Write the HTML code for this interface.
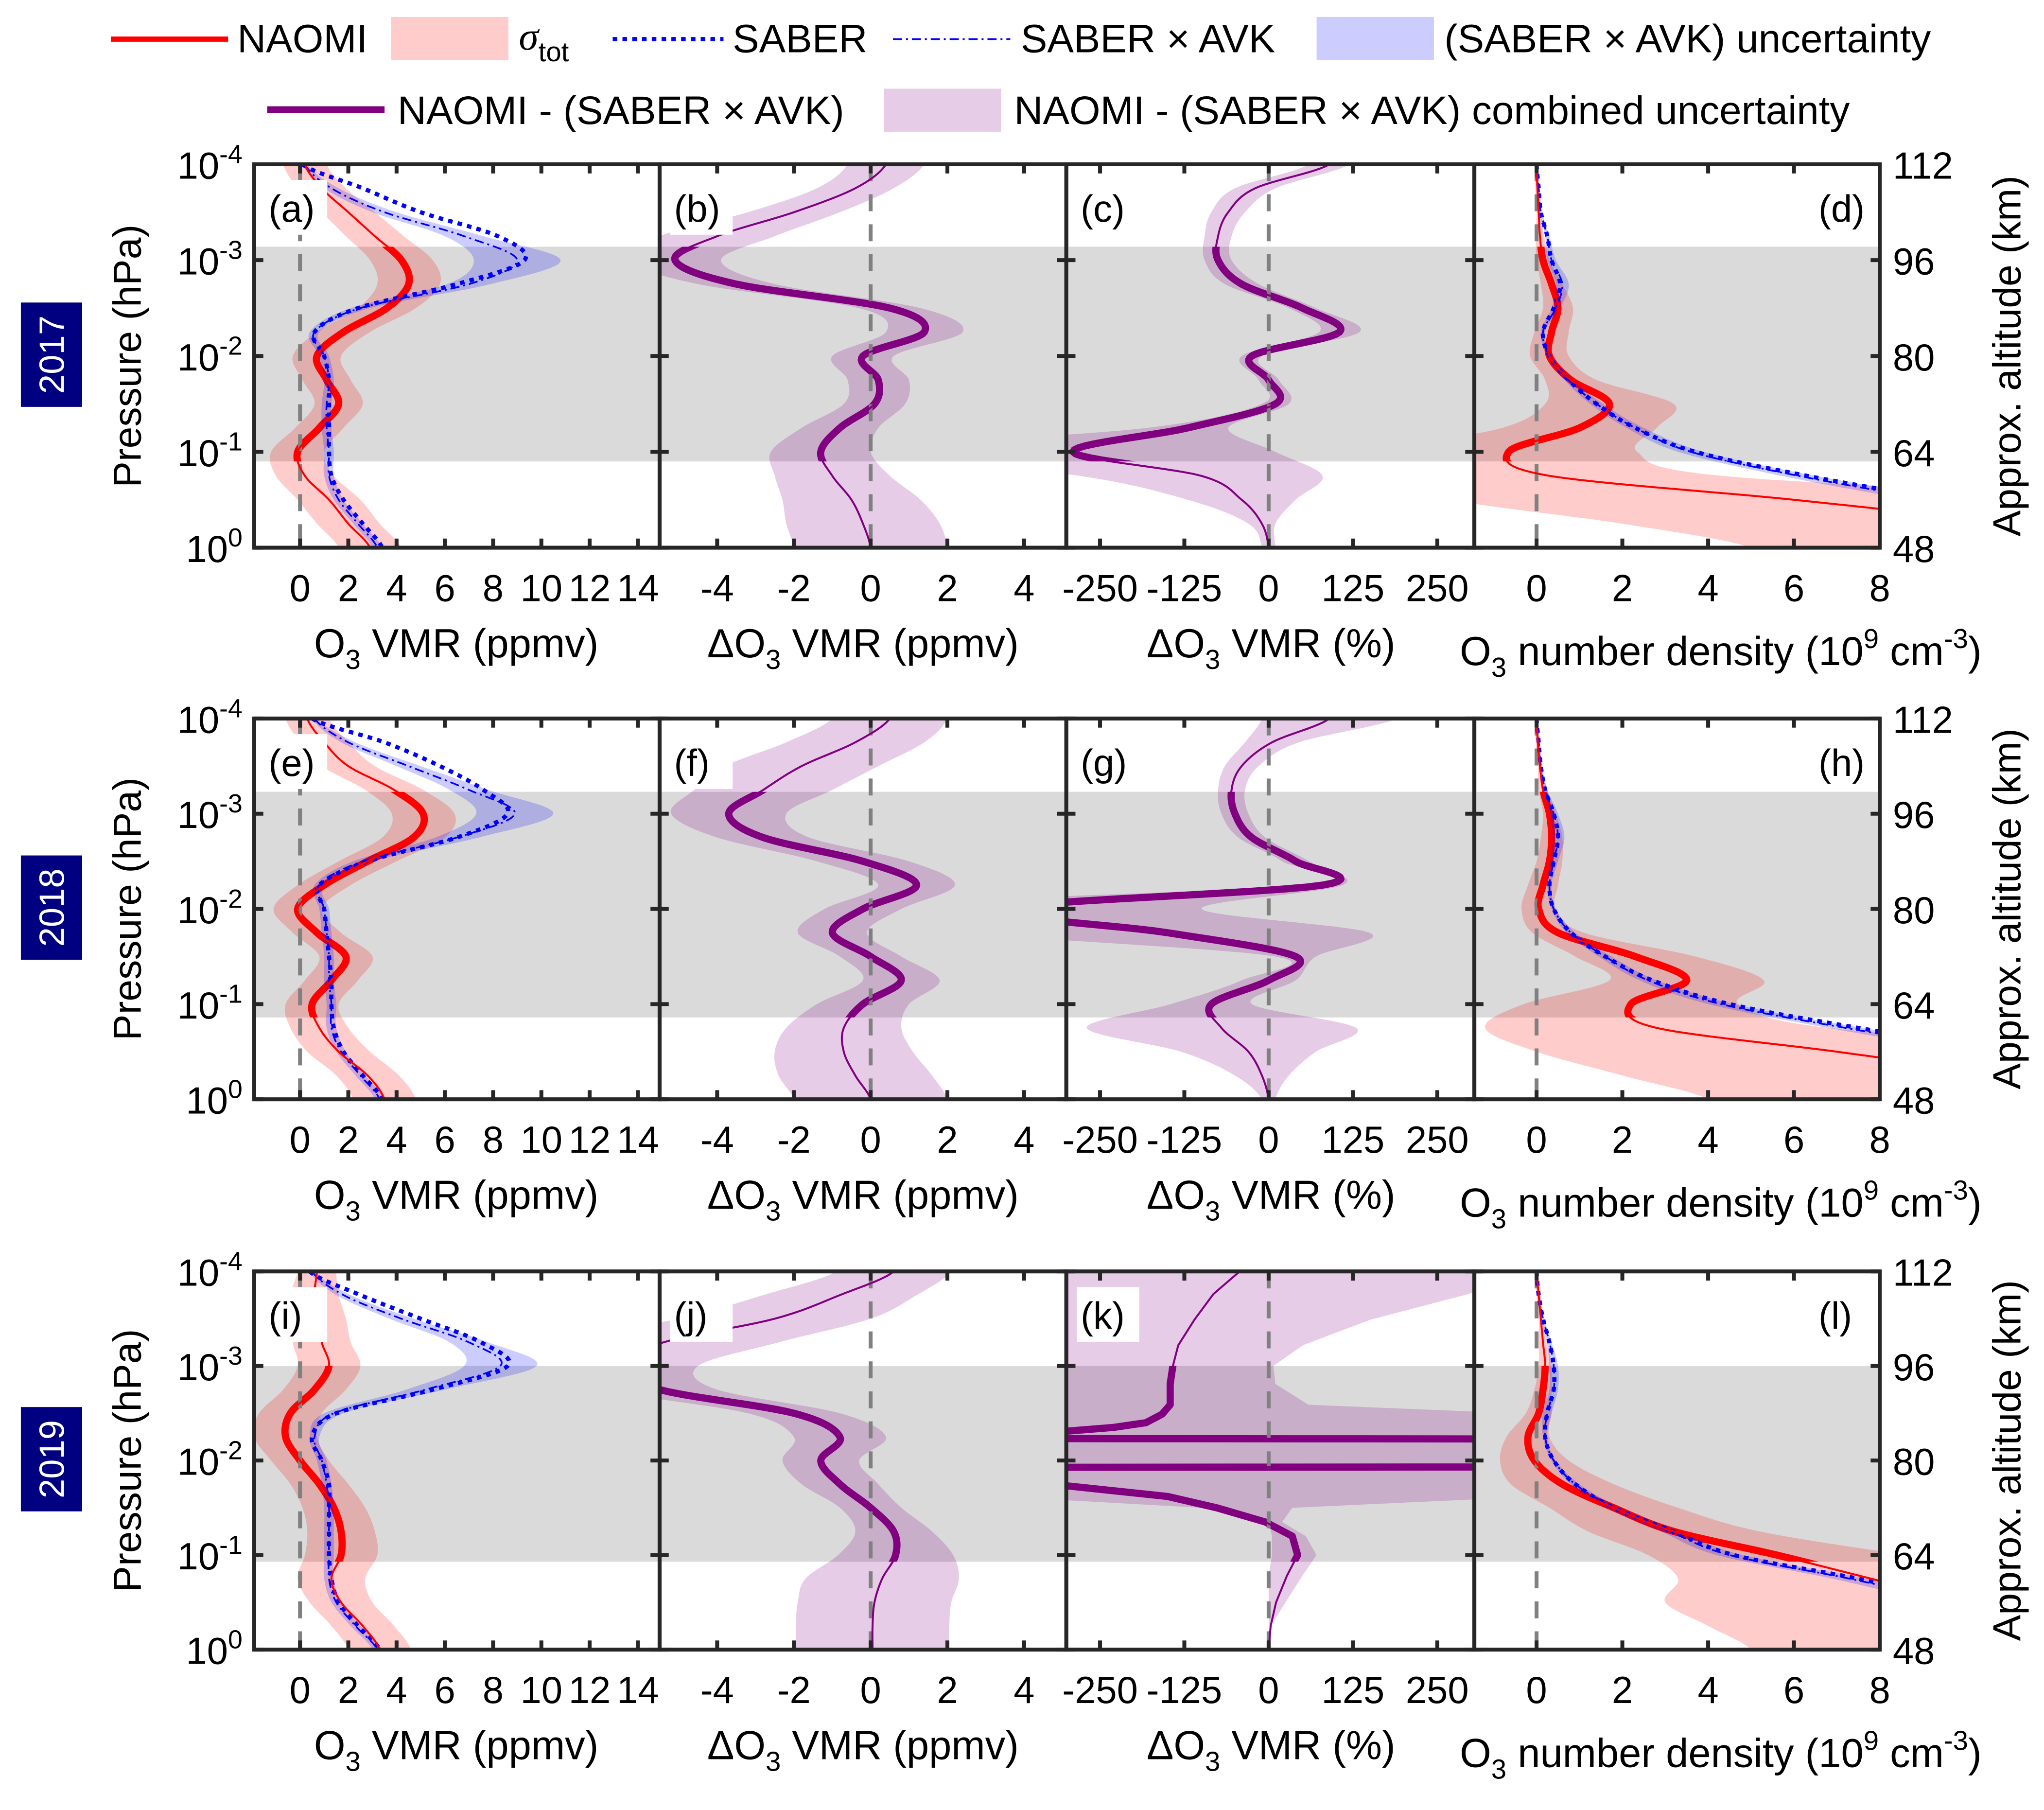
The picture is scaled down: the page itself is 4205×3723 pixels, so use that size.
<!DOCTYPE html>
<html><head><meta charset="utf-8"><style>
html,body{margin:0;padding:0;background:#fff;}
svg{display:block;font-family:"Liberation Sans",Arial,sans-serif;}
</style></head><body>
<svg id="fig" xmlns="http://www.w3.org/2000/svg" width="4205" height="3723" viewBox="0 0 1568 1388" preserveAspectRatio="none"></svg>
<script>
// ---------- data ----------
const LEV=[-4,-3.75,-3.5,-3.25,-3,-2.75,-2.5,-2.25,-2,-1.75,-1.5,-1.25,-1,-0.75,-0.5,-0.25,0];
const YEARS=['2017','2018','2019'];
const XTICKS_A=[0,2,4,6,8,10,12,14];
const XTICKS_B=[-4,-2,0,2,4];
const XTICKS_C=[-250,-125,0,125,250];
const XTICKS_D=[0,2,4,6,8];
const YTICK_EXP=[-4,-3,-2,-1,0];
const ALT_TICKS=[112,96,80,64,48];
// panel a (2017)
const aNaomi=[0.2,0.9,2.0,3.1,4.2,4.5,3.6,1.8,0.7,1.1,1.6,0.8,-0.1,0.2,1.2,2.0,2.9];
const aSig=[0.9,1.0,1.1,1.2,1.3,1.3,1.2,1.1,1.0,1.0,1.0,1.0,1.1,1.2,1.3,1.3,1.3];
const aSaber=[0.1,2.6,5.0,8.2,9.3,6.5,2.4,0.6,1.0,1.2,1.2,1.2,1.2,1.3,1.8,2.6,3.4];
const aAvk=[0.2,1.3,3.5,6.8,9.0,7.0,2.5,0.6,1.0,1.2,1.1,1.1,1.2,1.2,1.6,2.4,3.2];
const aAvkU=[0.1,0.3,0.5,0.8,1.8,0.9,0.4,0.2,0.2,0.2,0.2,0.2,0.2,0.2,0.2,0.2,0.2];
// panel b, c, d
const bDiff=[0.4,-0.4,-2,-4,-5.1,-3.5,0.5,1.4,-0.2,0.2,0.1,-0.8,-1.3,-1,-0.5,-0.2,0];
const bUnc=[1.0,1.0,1.2,1.5,1.2,1.0,0.8,1.0,0.8,0.8,0.8,1.0,1.3,1.5,1.8,2.0,2.0];
const cDiff=[90,-20,-60,-75,-75,-40,50,105,-25,0,10,-120,-290,-100,-40,-10,0];
const cUnc=[30,30,25,20,20,25,20,30,15,15,20,60,300,180,80,20,10];
const dNaomi=[0,0.02,0.05,0.08,0.15,0.35,0.5,0.35,0.3,0.8,1.7,1.0,-0.65,0.3,6,11,15];
const dSig=[0.05,0.05,0.05,0.1,0.15,0.25,0.35,0.4,0.45,0.6,1.5,1.8,3.0,4.0,8,9,10];
const dSaber=[0,0.05,0.1,0.25,0.35,0.55,0.4,0.15,0.3,0.75,1.4,2.3,3.7,6.3,9.5,13,17];
const dAvk=[0,0.05,0.1,0.25,0.35,0.6,0.45,0.15,0.3,0.75,1.4,2.3,3.6,6.1,9.2,12.5,16.5];
const dAvkU=[0,0.02,0.03,0.05,0.1,0.15,0.1,0.05,0.05,0.1,0.15,0.2,0.3,0.4,0.5,0.6,0.7];
// panel e (2018)
const eNaomi=[0.3,1.0,2.0,3.9,5.1,4.7,2.8,1.0,-0.1,0.7,1.9,1.3,0.5,0.8,1.6,2.8,3.5];
const eSig=[0.9,1.0,1.1,1.2,1.3,1.3,1.2,1.1,1.0,1.0,1.1,1.1,1.1,1.2,1.3,1.3,1.3];
const eSaber=[0.5,3.5,5.8,7.6,8.6,6.5,2.8,0.8,1.0,1.1,1.2,1.3,1.3,1.4,1.8,2.6,3.4];
const eAvk=[0.6,2.0,4.5,7.0,8.9,6.5,2.6,0.8,1.0,1.1,1.2,1.2,1.3,1.3,1.7,2.5,3.3];
const eAvkU=[0.1,0.3,0.5,0.8,1.6,0.9,0.4,0.2,0.2,0.2,0.2,0.2,0.2,0.2,0.2,0.2,0.2];
const fDiff=[0.5,-0.4,-1.8,-2.8,-3.7,-2.8,-0.2,1.2,-0.2,-1.0,0.0,0.8,-0.2,-0.7,-0.7,-0.4,0];
const fUnc=[1.5,1.8,2.0,1.8,1.5,1.2,1.2,1.0,1.0,0.9,0.8,1.0,1.2,1.5,1.8,2.0,2.0];
const gDiff=[90,5,-40,-55,-50,-25,40,80,-400,-150,40,0,-85,-70,-30,-10,0];
const gUnc=[100,40,25,20,20,20,20,30,300,300,30,40,60,200,100,40,10];
const hNaomi=[0,0.03,0.08,0.15,0.3,0.35,0.3,0.15,0.05,0.5,2.3,3.5,2.2,2.8,7,11,15];
const hSig=[0.05,0.05,0.05,0.1,0.15,0.25,0.3,0.35,0.4,0.6,1.4,1.8,2.5,4,7,9,11];
const hSaber=[0,0.05,0.1,0.2,0.4,0.5,0.4,0.3,0.4,0.8,1.6,2.7,4.5,7.5,11,15,19];
const hAvk=[0,0.05,0.1,0.2,0.4,0.5,0.4,0.3,0.4,0.8,1.6,2.6,4.3,7.2,10.6,14.5,18.5];
const hAvkU=[0,0.02,0.03,0.05,0.1,0.15,0.1,0.05,0.05,0.1,0.15,0.2,0.3,0.4,0.5,0.6,0.7];
// panel i (2019)
const iNaomi=[0.7,0.6,0.8,0.9,1.2,0.6,-0.4,-0.6,0.0,0.8,1.4,1.7,1.7,1.3,1.7,2.6,3.3];
const iSig=[0.8,1.0,1.1,1.2,1.3,1.3,1.3,1.3,1.2,1.2,1.3,1.4,1.5,1.4,1.3,1.3,1.3];
const iSaber=[0.4,2.5,5.0,7.5,8.6,5.5,1.5,0.5,0.9,1.2,1.2,1.2,1.2,1.3,1.6,2.4,3.3];
const iAvk=[0.5,1.8,4.2,7.0,8.3,5.2,1.4,0.6,0.9,1.1,1.2,1.2,1.2,1.2,1.5,2.3,3.2];
const iAvkU=[0.1,0.3,0.5,0.8,1.5,0.8,0.4,0.2,0.2,0.2,0.2,0.2,0.2,0.2,0.2,0.2,0.2];
const jDiff=[0.6,-0.8,-2.5,-5.4,-6.5,-5.5,-2.0,-0.8,-1.3,-0.8,0.0,0.6,0.65,0.3,0.1,0.05,0.05];
const jUnc=[1.5,2.0,2.5,3.0,2.0,1.5,1.2,1.2,1.0,1.0,0.8,1.0,1.5,2.0,2.0,2.0,2.0];
const kLev=[-4,-3.76,-3.49,-3.22,-3,-2.81,-2.59,-2.49,-2.4,-2.35,-2.31,-2.24,-2.22,-1.94,-1.92,-1.76,-1.73,-1.62,-1.5,-1.35,-1.2,-1,-0.78,-0.5,-0.25,0];
const kDiff=[-43,-82,-110,-134,-142,-146,-146,-158,-182,-230,-300,-2000,2000,2000,-2000,-400,-296,-150,-77,-5,35,43,27,11,3,0];
const kHi=[400,296,151,51,7,10,59,400,400,400,400,400,400,400,400,400,400,400,35,20,55,71,50,25,3,0];
const kLo=[-400,-400,-400,-400,-400,-400,-400,-400,-400,-400,-400,-400,-400,-400,-400,-400,-400,-400,-100,0,5,5,0,0,0,0];
const lNaomi=[0,0.05,0.1,0.15,0.2,0.15,0.05,-0.2,-0.05,0.6,1.8,3.2,5.6,7.8,10,13,16];
const lSig=[0.05,0.05,0.05,0.1,0.15,0.2,0.3,0.5,0.8,1.2,1.5,2.0,3.0,4.5,7,9,11];
const lSaber=[0,0.05,0.15,0.3,0.4,0.4,0.25,0.2,0.4,0.9,1.8,3.2,4.6,7.5,10,13,16];
const lAvk=[0,0.05,0.15,0.3,0.4,0.4,0.25,0.2,0.4,0.9,1.8,3.1,4.5,7.3,9.8,12.7,15.6];
const lAvkU=[0,0.02,0.03,0.05,0.1,0.1,0.1,0.05,0.05,0.1,0.15,0.2,0.3,0.4,0.5,0.6,0.7];

// ---------- geometry ----------
const TOP=[126,551,975], BOT=[420,843,1265];
const BAND=[[-3.14,-0.9],[-3.23,-0.86],[-3.0,-0.93]];
const X0=[195,506,818,1131], X1=[506,818,1131,1442];
const XMIN=[-1.9,-5.5,-300,-1.45], XMAX=[14.9,5.1,305,8];
const NS='http://www.w3.org/2000/svg';
const svg=document.getElementById('fig');
function mk(tag,attrs,parent){const e=document.createElementNS(NS,tag);for(const k in attrs)e.setAttribute(k,attrs[k]);(parent||svg).appendChild(e);return e;}
function sx(c,v){return X0[c]+(v-XMIN[c])/(XMAX[c]-XMIN[c])*(X1[c]-X0[c]);}
function sy(r,lp){return TOP[r]+(lp+4)/4*(BOT[r]-TOP[r]);}
function dense(lev,vals,smooth){
  const out=[];const n=vals.length;
  for(let i=0;i<n-1;i++){
    const p0=vals[Math.max(0,i-1)],p1=vals[i],p2=vals[i+1],p3=vals[Math.min(n-1,i+2)];
    const steps=smooth?12:1;
    for(let s=0;s<steps;s++){const t=s/steps;
      let v=smooth?0.5*((2*p1)+(-p0+p2)*t+(2*p0-5*p1+4*p2-p3)*t*t+(-p0+3*p1-3*p2+p3)*t*t*t):p1+(p2-p1)*t;
      out.push([lev[i]+(lev[i+1]-lev[i])*t,v]);}
  }
  out.push([lev[n-1],vals[n-1]]);return out;
}
function lineD(r,c,pts){return pts.map((p,i)=>(i?'L':'M')+sx(c,p[1]).toFixed(2)+','+sy(r,p[0]).toFixed(2)).join('');}
function bandD(r,c,lev,lo,hi,smooth){
  const a=dense(lev,hi,smooth),b=dense(lev,lo,smooth).reverse();
  return lineD(r,c,a)+b.map(p=>'L'+sx(c,p[1]).toFixed(2)+','+sy(r,p[0]).toFixed(2)).join('')+'Z';
}
const defs=mk('defs',{});
const add=(a,b,s)=>a.map((v,i)=>v+s*b[i]);

const LETTERS=[['(a)','(b)','(c)','(d)'],['(e)','(f)','(g)','(h)'],['(i)','(j)','(k)','(l)']];
const ROWDATA=[
 {n:aNaomi,s:aSig,sb:aSaber,av:aAvk,au:aAvkU,d1:bDiff,u1:bUnc,d2:cDiff,u2:cUnc,dn:dNaomi,ds:dSig,dsb:dSaber,dav:dAvk,dau:dAvkU},
 {n:eNaomi,s:eSig,sb:eSaber,av:eAvk,au:eAvkU,d1:fDiff,u1:fUnc,d2:gDiff,u2:gUnc,dn:hNaomi,ds:hSig,dsb:hSaber,dav:hAvk,dau:hAvkU},
 {n:iNaomi,s:iSig,sb:iSaber,av:iAvk,au:iAvkU,d1:jDiff,u1:jUnc,d2:null,u2:null,dn:lNaomi,ds:lSig,dsb:lSaber,dav:lAvk,dau:lAvkU}
];

for(let r=0;r<3;r++){
  const D=ROWDATA[r];
  for(let c=0;c<4;c++){
    const letter=LETTERS[r][c].replace(/[()]/g,'');
    const cp=mk('clipPath',{id:'cp'+r+c},defs);
    mk('rect',{x:X0[c],y:TOP[r],width:X1[c]-X0[c],height:BOT[r]-TOP[r]},cp);
    const cb=mk('clipPath',{id:'cb'+r+c},defs);
    mk('rect',{x:X0[c],y:sy(r,BAND[r][0]),width:X1[c]-X0[c],height:sy(r,BAND[r][1])-sy(r,BAND[r][0])},cb);
    const g=mk('g',{'clip-path':'url(#cp'+r+c+')'});
    
    
    const band=mk('rect',{x:X0[c],y:sy(r,BAND[r][0]),width:X1[c]-X0[c],height:sy(r,BAND[r][1])-sy(r,BAND[r][0]),fill:'#dadada'},g);
    
    
    const bold=mk('g',{'clip-path':'url(#cb'+r+c+')'},g);
    if(c===0||c===3){
      const N=c===0?D.n:D.dn, S=c===0?D.s:D.ds, SB=c===0?D.sb:D.dsb, AV=c===0?D.av:D.dav, AU=c===0?D.au:D.dau;
      const f1=mk('path',{d:bandD(r,c,LEV,add(N,S,-1),add(N,S,1),true),fill:'#ff0000','fill-opacity':0.2},g);
      
      
      const f2=mk('path',{d:bandD(r,c,LEV,add(AV,AU,-1),add(AV,AU,1),true),fill:'#0000ff','fill-opacity':0.2},g);
      
      
      const z=mk('line',{x1:sx(c,0),x2:sx(c,0),y1:TOP[r],y2:BOT[r],stroke:'#808080','stroke-width':3,'stroke-dasharray':'13 10'},g);
      
      
      const l1=mk('path',{d:lineD(r,c,dense(LEV,SB,true)),fill:'none',stroke:'#0000ff','stroke-width':3.2,'stroke-dasharray':'3.5 4'},g);
      
      
      const l2=mk('path',{d:lineD(r,c,dense(LEV,AV,true)),fill:'none',stroke:'#0000ff','stroke-width':1.3,'stroke-dasharray':'7 3 1.5 3'},g);
      
      
      const nd=lineD(r,c,dense(LEV,N,true));
      const l3=mk('path',{d:nd,fill:'none',stroke:'#ff0000','stroke-width':1.5},g);
      
      
      const l4=mk('path',{d:nd,fill:'none',stroke:'#ff0000','stroke-width':5.5},bold);
      
      
    } else {
      let dd,bd;
      if(c===1){dd=dense(LEV,D.d1,true);bd=bandD(r,c,LEV,add(D.d1,D.u1,-1),add(D.d1,D.u1,1),true);}
      else if(r<2){dd=dense(LEV,D.d2,true);bd=bandD(r,c,LEV,add(D.d2,D.u2,-1),add(D.d2,D.u2,1),true);}
      else {dd=dense(kLev,kDiff,false);bd=bandD(r,c,kLev,kLo,kHi,false);}
      const f=mk('path',{d:bd,fill:'#800080','fill-opacity':0.2},g);
      
      
      const z=mk('line',{x1:sx(c,0),x2:sx(c,0),y1:TOP[r],y2:BOT[r],stroke:'#808080','stroke-width':3,'stroke-dasharray':'13 10'},g);
      
      
      const pd=lineD(r,c,dd);
      const l1=mk('path',{d:pd,fill:'none',stroke:'#800080','stroke-width':1.5,'stroke-linejoin':'round'},g);
      
      
      const l2=mk('path',{d:pd,fill:'none',stroke:'#800080','stroke-width':5.5,'stroke-linejoin':'round'},bold);
      
      
    }
    const lx=(c===3)?X1[c]-50:X0[c]+8;
    if(c!==3){const wb=mk('rect',{x:lx,y:TOP[r]+12,width:48,height:42,fill:'#fff'});
      
      }
    const lt=mk('text',{x:lx+3,y:TOP[r]+44,'font-size':29,fill:'#000'});
    lt.textContent=LETTERS[r][c];
    
    
    const fr=mk('rect',{x:X0[c],y:TOP[r],width:X1[c]-X0[c],height:BOT[r]-TOP[r],fill:'none',stroke:'#262626','stroke-width':3});
    
    
    YTICK_EXP.forEach(e=>{const y=sy(r,e);
      const t1=mk('line',{x1:X0[c],x2:X0[c]+7,y1:y,y2:y,stroke:'#262626','stroke-width':3});
      
      
      const t2=mk('line',{x1:X1[c]-7,x2:X1[c],y1:y,y2:y,stroke:'#262626','stroke-width':3});
      
      });
    const XT=[XTICKS_A,XTICKS_B,XTICKS_C,XTICKS_D][c];
    XT.forEach(v=>{const x=sx(c,v);
      const t1=mk('line',{x1:x,x2:x,y1:BOT[r],y2:BOT[r]-7,stroke:'#262626','stroke-width':3});
      
      
      const t2=mk('line',{x1:x,x2:x,y1:TOP[r],y2:TOP[r]+7,stroke:'#262626','stroke-width':3});
      
      
      const tl=mk('text',{x:x,y:BOT[r]+41,'font-size':29,'text-anchor':'middle',fill:'#000'});
      tl.textContent=(v<0?'-'+Math.abs(v):String(v));
      
      });
  }
  const ty=BOT[r]+84;
  const xa=mk('text',{x:350,y:ty,'font-size':31,'text-anchor':'middle'});
  xa.innerHTML='O<tspan font-size="21" dy="9">3</tspan><tspan dy="-9"> VMR (ppmv)</tspan>';
  
  
  const xb=mk('text',{x:662,y:ty,'font-size':31,'text-anchor':'middle'});
  xb.innerHTML='ΔO<tspan font-size="21" dy="9">3</tspan><tspan dy="-9"> VMR (ppmv)</tspan>';
  
  
  const xc=mk('text',{x:975,y:ty,'font-size':31,'text-anchor':'middle'});
  xc.innerHTML='ΔO<tspan font-size="21" dy="9">3</tspan><tspan dy="-9"> VMR (%)</tspan>';
  
  
  const xd=mk('text',{x:1320,y:ty+6,'font-size':31,'text-anchor':'middle'});
  xd.innerHTML='O<tspan font-size="21" dy="9">3</tspan><tspan dy="-9"> number density (10</tspan><tspan font-size="21" dy="-13">9</tspan><tspan dy="13"> cm</tspan><tspan font-size="21" dy="-13">-3</tspan><tspan dy="13">)</tspan>';
  
  
  YTICK_EXP.forEach(e=>{const y=sy(r,e);
    const t=mk('text',{x:186,y:y+11,'font-size':29,'text-anchor':'end'});
    t.innerHTML='10<tspan font-size="20" dy="-12">'+(e<0?'-'+Math.abs(e):e)+'</tspan>';
    
    });
  ALT_TICKS.forEach((a,i)=>{const y=sy(r,YTICK_EXP[i]);
    const t=mk('text',{x:1452,y:y+11,'font-size':29});
    t.textContent=a;
    
    });
  const cy=(TOP[r]+BOT[r])/2;
  const yl=mk('text',{x:0,y:0,'font-size':30,'text-anchor':'middle',transform:'translate(108,'+cy+') rotate(-90)'});
  yl.textContent='Pressure (hPa)';
  
  
  const yr=mk('text',{x:0,y:0,'font-size':30,'text-anchor':'middle',transform:'translate(1550,'+cy+') rotate(-90)'});
  yr.textContent='Approx. altitude (km)';
  
  
  const yb=mk('rect',{x:16,y:cy-41,width:47,height:80,fill:'#000080'});
  
  
  const yt=mk('text',{x:0,y:0,'font-size':27,'text-anchor':'middle',fill:'#fff',transform:'translate(49,'+(cy-1)+') rotate(-90)'});
  yt.textContent=YEARS[r];
  
  
}

// ---------- legend ----------
const leg=mk('g',{});


function legText(x,y,html,name){const t=mk('text',{x:x,y:y,'font-size':30.5},leg);t.innerHTML=html;
  
  return t;}
let e;
e=mk('line',{x1:85,x2:175,y1:30,y2:30,stroke:'#ff0000','stroke-width':4},leg);


legText(182,40,'NAOMI','legend-naomi');
e=mk('rect',{x:300,y:13,width:90,height:33,fill:'#ff0000','fill-opacity':0.2},leg);


legText(398,38,'<tspan font-family="Liberation Serif" font-style="italic">σ</tspan><tspan font-size="21" dy="9">tot</tspan>','legend-sigma-tot');
e=mk('line',{x1:470,x2:555,y1:30,y2:30,stroke:'#0000ff','stroke-width':3.2,'stroke-dasharray':'3.5 4'},leg);


legText(562,40,'SABER','legend-saber');
e=mk('line',{x1:685,x2:775,y1:30,y2:30,stroke:'#0000ff','stroke-width':1.3,'stroke-dasharray':'7 3 1.5 3'},leg);


legText(783,40,'SABER × AVK','legend-saber-avk');
e=mk('rect',{x:1010,y:13,width:90,height:33,fill:'#0000ff','fill-opacity':0.2},leg);


legText(1108,40,'(SABER × AVK) uncertainty','legend-avk-uncertainty');
e=mk('line',{x1:205,x2:295,y1:84,y2:84,stroke:'#800080','stroke-width':5},leg);


legText(305,95,'NAOMI - (SABER × AVK)','legend-difference');
e=mk('rect',{x:678,y:68,width:90,height:33,fill:'#800080','fill-opacity':0.2},leg);


legText(778,95,'NAOMI - (SABER × AVK) combined uncertainty','legend-combined-uncertainty');
</script>
</body></html>
